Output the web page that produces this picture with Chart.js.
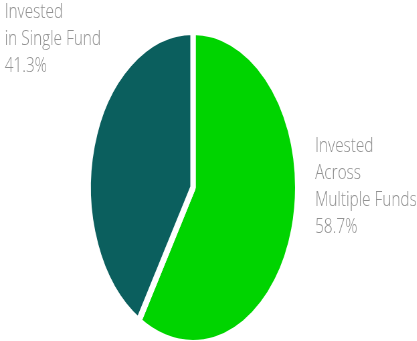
<!DOCTYPE html>
<html>
<head>
    <title>Fund Investment Split</title>
    <script src="https://cdn.jsdelivr.net/npm/chart.js"></script>
    <style>
        html, body { margin:0; padding:0; background:#fff; overflow:hidden; }
        #wrap { width:623px; height:341px; transform:scaleX(0.669); transform-origin:0 0; }
    </style>
</head>
<body>
<div id="wrap">
    <canvas id="split-chart" width="623" height="341"></canvas>
</div>
<script>
const categories = ['Invested Across Multiple Funds', 'Invested in Single Fund'];
const shares = [58.7, 41.3];
const labelLines = [
    ['Invested', 'Across', 'Multiple Funds'],
    ['Invested', 'in Single Fund']
];
const sliceColors = ['#00d400', '#0b5f5e'];

// slice captions, placed beside the pie using the arc geometry
const captions = {
    id: 'captions',
    afterDraw(chart) {
        const arc = chart.getDatasetMeta(0).data[0];
        const {x, y, outerRadius} = arc;
        const ctx = chart.ctx;
        const stretch = 1.12;
        ctx.save();
        ctx.font = '300 20.5px "Open Sans"';
        ctx.fillStyle = '#919191';
        ctx.textBaseline = 'alphabetic';
        ctx.scale(stretch, 1);
        const place = [
            {x: x + outerRadius + 26, y: y - 36},
            {x: 7, y: 18}
        ];
        labelLines.forEach((lines, i) => {
            const rows = lines.concat(shares[i].toFixed(1) + '%');
            rows.forEach((t, j) => ctx.fillText(t, place[i].x / stretch, place[i].y + j * 27));
        });
        ctx.restore();
    }
};

new Chart(document.getElementById('split-chart'), {
    type: 'pie',
    data: {
        labels: categories,
        datasets: [{
            data: shares,
            backgroundColor: sliceColors,
            borderColor: '#fff',
            borderWidth: 8,
            radius: 156.5
        }]
    },
    options: {
        responsive: false,
        animation: false,
        layout: {padding: {left: 0, right: 46, top: 34, bottom: 0}},
        plugins: {legend: {display: false}, tooltip: {enabled: false}}
    },
    plugins: [captions]
});
</script>
</body>
</html>
